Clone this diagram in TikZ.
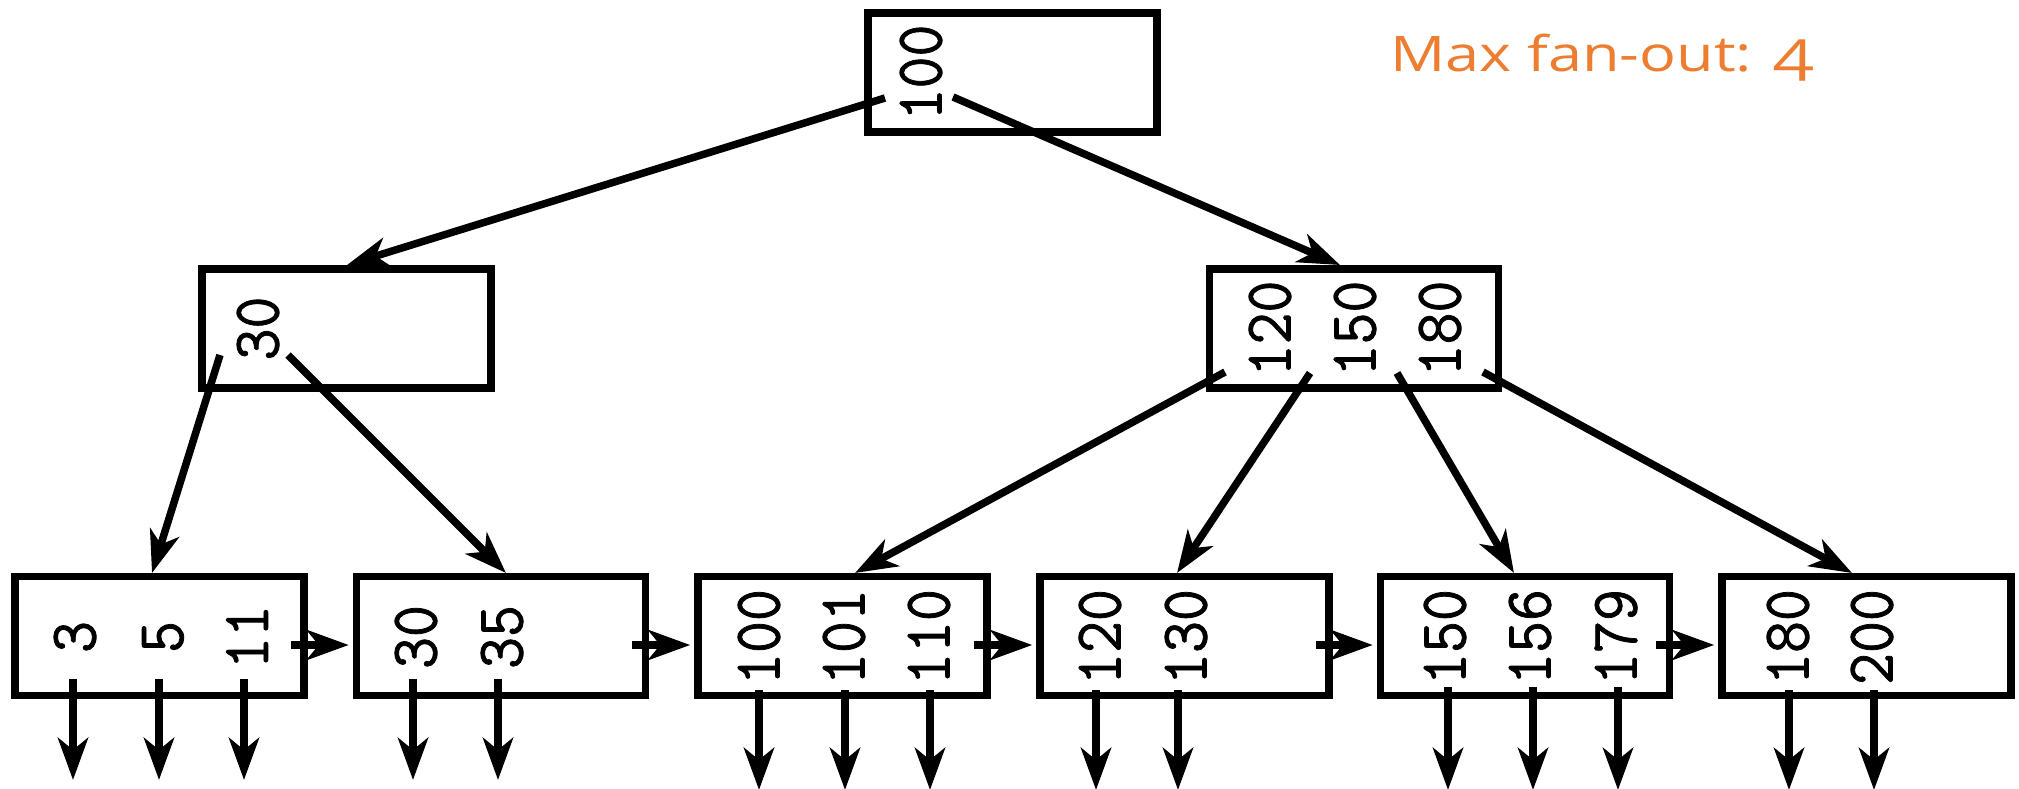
\documentclass[tikz,border=0pt]{standalone}
\usepackage{fontspec}
\newfontfamily\notefont[Numbers=OldStyle]{Open Sans}
\newfontfamily\keyfont[FakeBold=1.2]{Latin Modern Mono}
\usetikzlibrary{arrows.meta}
\definecolor{noteorange}{HTML}{ED7D31}
\newcommand{\keyval}[1]{\scalebox{1}[1.08]{#1}}
\begin{document}
\begin{tikzpicture}[x=1pt,y=-1pt,
  nodebox/.style={draw=black,line width=7.5pt,minimum width=289pt,minimum height=119pt,inner sep=0pt},
  keytext/.style={rotate=90,inner sep=0pt,font=\keyfont\fontsize{62}{66}\selectfont},
  ptr/.style={line width=7.5pt,-{Stealth[length=42pt,width=30pt,inset=12pt]}},
  note/.style={anchor=base west,inner sep=0pt,text=noteorange,font=\notefont\fontsize{49}{56}\selectfont}]
\useasboundingbox (0,0) rectangle (2019,789);
% boxes
\node[nodebox] (root) at (1012.5,72.5) {};
\node[nodebox] (ml) at (346.5,328.5) {};
\node[nodebox] (mr) at (1354,328.5) {};
\node[nodebox] (l1) at (159.5,636) {};
\node[nodebox] (l2) at (501,636) {};
\node[nodebox] (l3) at (842.5,636) {};
\node[nodebox] (l4) at (1184.5,636) {};
\node[nodebox] (l5) at (1525,636) {};
\node[nodebox] (l6) at (1866.5,636) {};
% keys
\node[keytext] (k100) at (921,72.5) {\keyval{100}};
\node[keytext] (k30) at (258,328.5) {\keyval{30}};
\node[keytext] (k120) at (1270,328.5) {\keyval{120}};
\node[keytext] (k150) at (1355,328.5) {\keyval{150}};
\node[keytext] (k180) at (1440,328.5) {\keyval{180}};
\node[keytext] (a3) at (75,637) {\keyval{3}};
\node[keytext] (a5) at (163,637) {\keyval{5}};
\node[keytext] (a11) at (247,637) {\keyval{11}};
\node[keytext] (b30) at (416,637) {\keyval{30}};
\node[keytext] (b35) at (502,637) {\keyval{35}};
\node[keytext] (c100) at (759,637) {\keyval{100}};
\node[keytext] (c101) at (844,637) {\keyval{101}};
\node[keytext] (c110) at (929,637) {\keyval{110}};
\node[keytext] (d120) at (1100,637) {\keyval{120}};
\node[keytext] (d130) at (1186,637) {\keyval{130}};
\node[keytext] (e150) at (1445,637) {\keyval{150}};
\node[keytext] (e156) at (1530,637) {\keyval{156}};
\node[keytext] (e179) at (1616,637) {\keyval{179}};
\node[keytext] (f180) at (1788,637) {\keyval{180}};
\node[keytext] (f200) at (1872,637) {\keyval{200}};
% note
\node[note] (fanout) at (1390,72) {\scalebox{1.25}[1]{Max fan-out: {\fontsize{58}{64}\selectfont 4}}};
% pointer coordinates: internal nodes
\coordinate (rp0) at (885,98);
\coordinate (rp1) at (953,97);
\coordinate (mlp0) at (220,355);
\coordinate (mlp1) at (288,355);
\coordinate (mrp0) at (1225,372);
\coordinate (mrp1) at (1310,373);
\coordinate (mrp2) at (1397,373);
\coordinate (mrp3) at (1483,372);
% targets
\coordinate (mlin) at (347,265);
\coordinate (mrin) at (1340,265);
\coordinate (l1in) at (152,573);
\coordinate (l2in) at (506,573);
\coordinate (l3in) at (855,573);
\coordinate (l4in) at (1177,573);
\coordinate (l5in) at (1514,573);
\coordinate (l6in) at (1852,573);
\draw[ptr] (rp0) -- (mlin);
\draw[ptr] (rp1) -- (mrin);
\draw[ptr] (mlp0) -- (l1in);
\draw[ptr] (mlp1) -- (l2in);
\draw[ptr] (mrp0) -- (l3in);
\draw[ptr] (mrp1) -- (l4in);
\draw[ptr] (mrp2) -- (l5in);
\draw[ptr] (mrp3) -- (l6in);
% sibling links
\foreach \a/\b in {l1/l2,l2/l3,l3/l4,l4/l5,l5/l6}{
  \path (\a.east) ++(-17,9) coordinate (\a next);
  \path (\b.west) ++(-4,9) coordinate (\b prev);
  \draw[ptr] (\a next) -- (\b prev);
}
% record pointers
\foreach \x/\n in {73/1,159/2,244/3,413/4,498/5}{
  \coordinate (rs\n) at (\x,679);
  \coordinate (re\n) at (\x,780);
  \draw[ptr] (rs\n) -- (re\n);
}
\foreach \x/\s/\n in {759/690/6,845/690/7,930/690/8,1096/690/9,1178/690/10,1448/687/11,1533/687/12,1618/687/13,1789/690/14,1874/690/15}{
  \coordinate (rs\n) at (\x,\s);
  \coordinate (re\n) at (\x,790);
  \draw[ptr] (rs\n) -- (re\n);
}
\end{tikzpicture}
\end{document}
